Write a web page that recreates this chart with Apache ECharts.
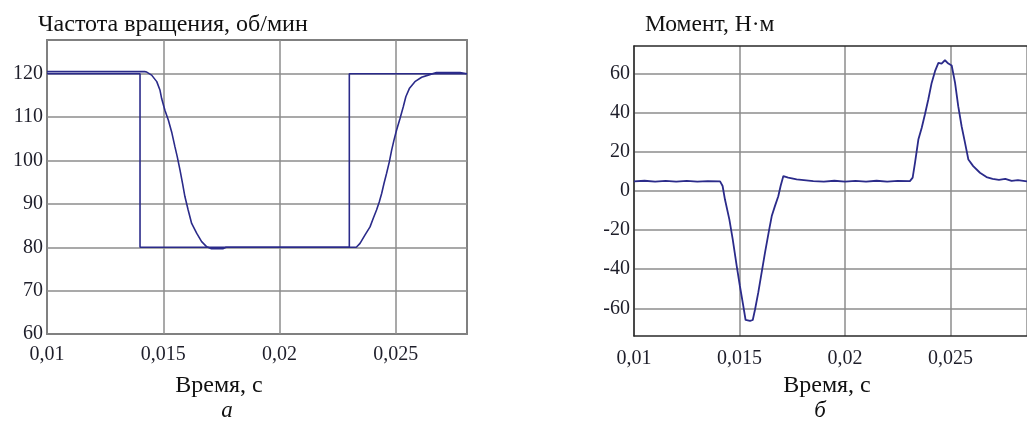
<!DOCTYPE html>
<html>
<head>
<meta charset="utf-8">
<script src="https://cdn.jsdelivr.net/npm/echarts@6/dist/echarts.min.js"></script>
<style>
  html, body { margin: 0; padding: 0; background: #fff; }
  #main { width: 1027px; height: 423px; }
</style>
</head>
<body>
<div id="main"></div>
<script>
// частота вращения: задание (ступенька) и фактическая
var speedRefTime  = [0.01, 0.014, 0.014, 0.023, 0.023, 0.02806];
var speedRefValue = [120, 120, 80, 80, 120, 120];

var speedTime = [
  0.01, 0.0142, 0.01429, 0.0145, 0.01472, 0.01486, 0.01493, 0.01507, 0.01522,
  0.01536, 0.0155, 0.0156, 0.01572, 0.01583, 0.01593, 0.01607, 0.01622, 0.01644,
  0.01665, 0.01687, 0.01705, 0.01758, 0.0177, 0.0233,
  0.02331, 0.02346, 0.02367, 0.02389, 0.02403, 0.02417, 0.02429, 0.02439, 0.02449,
  0.0246, 0.02472, 0.02482, 0.02492, 0.02503, 0.02518, 0.02532, 0.02543, 0.02558,
  0.02582, 0.02611, 0.02639, 0.02675, 0.02776, 0.02806
];
var speedValue = [
  120.5, 120.5, 120.4, 119.7, 118.2, 116.2, 114.3, 111.6, 109.3,
  106.6, 103.2, 100.9, 97.8, 94.7, 91.7, 88.6, 85.5, 83.2,
  81.3, 80.1, 79.7, 79.7, 80, 80,
  80.1, 80.9, 82.8, 84.7, 86.7, 88.6, 90.5, 92.4, 94.7,
  97.0, 99.7, 102.4, 104.7, 107.0, 109.7, 112.4, 114.7, 116.6,
  118.2, 119.2, 119.7, 120.3, 120.3, 120
];

// момент
var torqueTime = [
  0.01, 0.0105, 0.011, 0.0115, 0.012, 0.0125, 0.013, 0.0135, 0.01408,
  0.0142, 0.01431, 0.01452, 0.01468, 0.01487, 0.01502, 0.01518, 0.01529, 0.0155,
  0.01563, 0.01574, 0.01589, 0.01605, 0.01621, 0.01641, 0.01653, 0.01668, 0.01684,
  0.01695, 0.01708, 0.01731, 0.01771, 0.0185, 0.019, 0.0195, 0.02, 0.0205, 0.021,
  0.0215, 0.022, 0.0225, 0.02308,
  0.02321, 0.02332, 0.02348, 0.02364, 0.02379, 0.02395, 0.02411, 0.02427, 0.02443,
  0.02458, 0.02474, 0.0249, 0.02506, 0.02522, 0.02537, 0.02553, 0.02569, 0.02585,
  0.02608, 0.0264, 0.02671, 0.027, 0.0273, 0.0276, 0.0279, 0.0282, 0.02863
];
var torqueValue = [
  5.0, 5.3, 4.8, 5.2, 4.9, 5.2, 4.8, 5.1, 5.0,
  2.6, -4.2, -14.5, -24.7, -38.4, -48.6, -58.8, -66.0, -66.5,
  -66.0, -60.5, -52.0, -41.7, -31.5, -19.6, -12.8, -7.7, -2.6,
  2.6, 7.7, 6.9, 6.0, 5.1, 4.8, 5.3, 4.9, 5.2, 4.8,
  5.3, 4.9, 5.2, 5.1,
  6.9, 14.5, 26.4, 32.4, 39.2, 46.9, 55.4, 61.4, 65.7,
  65.3, 67.0, 65.3, 64.3, 55.4, 43.5, 33.2, 24.8, 16.2,
  12.8, 9.4, 7.2, 6.3, 5.8, 6.3, 5.2, 5.6, 5.0
];

var torqueTicks = [-60, -40, -20, 0, 20, 40, 60];

function pairs(xs, ys) {
  return xs.map(function (x, i) { return [x, ys[i]]; });
}

var serif = '"Liberation Serif", "DejaVu Serif", serif';
var lineColor = '#2b2b8a';
var frameColor = '#2a2a2a';
var gridLine = { show: true, lineStyle: { color: '#8c8c8c', width: 1.5 } };
var labelStyle = { fontFamily: serif, fontSize: 20, color: '#1e1e2a' };
var frameLine = { show: true, onZero: false, lineStyle: { color: frameColor, width: 1.5 } };

function timeAxis(gridIndex, max, margin, withFrame) {
  return {
    type: 'value',
    gridIndex: gridIndex,
    position: 'bottom',
    min: 0.01,
    max: max,
    interval: 0.005,
    axisLine: withFrame ? frameLine : { show: false },
    axisTick: { show: false },
    splitLine: gridLine,
    axisLabel: Object.assign({
      margin: margin,
      showMaxLabel: false,
      formatter: function (v) { return String(+v.toFixed(3)).replace('.', ','); }
    }, labelStyle)
  };
}

var chart = echarts.init(document.getElementById('main'));

var option = {
  animation: false,
  backgroundColor: '#fff',
  grid: [
    { left: 47, top: 40, width: 420, height: 294, show: true, borderColor: frameColor, borderWidth: 1.5 },
    // правый график обрезан по краю картинки: рамку рисуют линии осей
    { left: 634, top: 46, width: 393, height: 290, show: false }
  ],
  xAxis: [
    timeAxis(0, 0.02806, 11, false),
    timeAxis(1, 0.02863, 13, true),
    {
      type: 'value', gridIndex: 1, position: 'top', min: 0.01, max: 0.02863,
      axisLine: frameLine, axisTick: { show: false }, axisLabel: { show: false }, splitLine: { show: false }
    }
  ],
  yAxis: [
    {
      type: 'value',
      gridIndex: 0,
      min: 60,
      max: 127.8,
      interval: 10,
      axisLine: { show: false },
      axisTick: { show: false },
      splitLine: gridLine,
      axisLabel: Object.assign({ margin: 4, showMaxLabel: false }, labelStyle)
    },
    {
      type: 'value',
      gridIndex: 1,
      min: -74.2,
      max: 74.3,
      axisLine: frameLine,
      axisTick: { show: false, customValues: torqueTicks },
      splitLine: gridLine,
      axisLabel: Object.assign({ margin: 4, customValues: torqueTicks }, labelStyle)
    }
  ],
  graphic: [
    { type: 'text', x: 38, y: 25, style: { text: 'Частота вращения, об/мин', font: '24px ' + serif, fill: '#111', textAlign: 'left', textVerticalAlign: 'middle' } },
    { type: 'text', x: 645, y: 25, style: { text: 'Момент, Н·м', font: '23.5px ' + serif, fill: '#111', textAlign: 'left', textVerticalAlign: 'middle' } },
    { type: 'text', x: 219, y: 386, style: { text: 'Время, с', font: '24px ' + serif, fill: '#111', textAlign: 'center', textVerticalAlign: 'middle' } },
    { type: 'text', x: 827, y: 386, style: { text: 'Время, с', font: '24px ' + serif, fill: '#111', textAlign: 'center', textVerticalAlign: 'middle' } },
    { type: 'text', x: 227, y: 411, style: { text: 'а', font: 'italic 23px ' + serif, fill: '#111', textAlign: 'center', textVerticalAlign: 'middle' } },
    { type: 'text', x: 820, y: 411, style: { text: 'б', font: 'italic 23px ' + serif, fill: '#111', textAlign: 'center', textVerticalAlign: 'middle' } }
  ],
  series: [
    {
      type: 'line', xAxisIndex: 0, yAxisIndex: 0,
      data: pairs(speedRefTime, speedRefValue),
      showSymbol: false, lineStyle: { color: lineColor, width: 1.6 }
    },
    {
      type: 'line', xAxisIndex: 0, yAxisIndex: 0,
      data: pairs(speedTime, speedValue),
      showSymbol: false, lineStyle: { color: lineColor, width: 1.6 }
    },
    {
      type: 'line', xAxisIndex: 1, yAxisIndex: 1,
      data: pairs(torqueTime, torqueValue),
      showSymbol: false, lineStyle: { color: lineColor, width: 1.8 }
    }
  ]
};

chart.setOption(option);
</script>
</body>
</html>
